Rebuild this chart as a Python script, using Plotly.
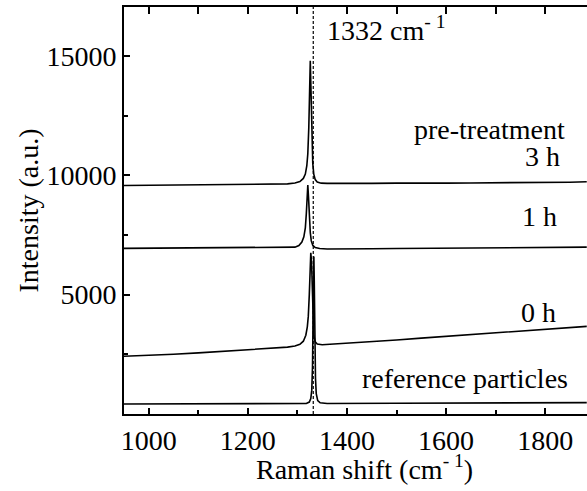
import plotly.graph_objects as go

# ---- data ----
x_3h = [950, 1000, 1050, 1100, 1150, 1200, 1250, 1280, 1295, 1305, 1312, 1316, 1319, 1321, 1323, 1324.5,
        1326, 1327.5, 1329, 1331, 1333, 1336, 1340, 1348, 1360, 1400, 1450, 1500, 1550, 1600, 1650,
        1700, 1750, 1800, 1850, 1884]
y_3h = [9570, 9580, 9590, 9600, 9605, 9615, 9625, 9640, 9680, 9740, 9870, 10050, 10400, 10900, 12000, 13600,
        14800, 13500, 11800, 10500, 10050, 9820, 9720, 9670, 9660, 9650, 9660, 9670, 9660, 9670, 9680,
        9680, 9690, 9700, 9710, 9730]

x_1h = [950, 1000, 1050, 1100, 1150, 1200, 1250, 1280, 1295, 1303, 1309, 1313, 1316, 1318, 1319.5, 1321,
        1322.5, 1324, 1326, 1328, 1331, 1336, 1345, 1360, 1400, 1450, 1500, 1550, 1600, 1650, 1700,
        1750, 1800, 1850, 1884]
y_1h = [6940, 6945, 6945, 6950, 6950, 6950, 6955, 6960, 6990, 7060, 7200, 7420, 7800, 8400, 9100, 9590,
        9050, 8200, 7600, 7250, 7070, 6970, 6930, 6915, 6910, 6920, 6930, 6940, 6950, 6960, 6965,
        6970, 6975, 6985, 6990]

x_0h = [950, 1000, 1050, 1100, 1150, 1200, 1250, 1280, 1295, 1305, 1312, 1317, 1320, 1322, 1324, 1325.5,
        1327, 1328.5, 1330, 1331.5, 1333, 1336, 1340, 1350, 1400, 1450, 1500, 1550, 1600, 1650, 1700,
        1750, 1800, 1850, 1884]
y_0h = [2420, 2450, 2500, 2560, 2620, 2680, 2740, 2800, 2850, 2920, 3050, 3300, 3650, 4100, 5000, 6000,
        6750, 6400, 5000, 3900, 3300, 3020, 2930, 2900, 2960, 3030, 3100, 3180, 3250, 3330, 3400,
        3470, 3550, 3620, 3670]

x_ref = [950, 1100, 1200, 1300, 1318, 1324, 1327, 1329, 1330.5, 1331.5, 1332.5, 1333.2, 1334, 1335, 1336.5,
         1338, 1341, 1346, 1360, 1500, 1700, 1884]
y_ref = [420, 425, 425, 430, 440, 500, 650, 1000, 2000, 3800, 6000, 6600, 5600, 3200, 1500,
         850, 560, 470, 440, 450, 460, 475]

peak_pos = 1332
x_range = [950, 1884.5]
y_range = [0, 17050]

FONT = "Liberation Serif, Times New Roman, Times, DejaVu Serif, serif"
FS = 28

fig = go.Figure()
for xs, ys in [(x_ref, y_ref), (x_0h, y_0h), (x_1h, y_1h), (x_3h, y_3h)]:
    fig.add_trace(go.Scatter(x=xs, y=ys, mode="lines", line=dict(color="black", width=1.6),
                             showlegend=False, hoverinfo="skip"))

# invisible trace for the top axis
fig.add_trace(go.Scatter(x=[x_range[0]], y=[y_range[0]], xaxis="x2", mode="markers",
                         marker=dict(opacity=0), showlegend=False, hoverinfo="skip"))

fig.add_shape(type="line", x0=peak_pos, x1=peak_pos, y0=0, y1=1, xref="x", yref="paper",
              line=dict(color="black", width=1.2, dash="3px,2px"))

labels = [
    ("pre-treatment", 1843.7, 11898),
    ("3 h", 1833.7, 10767),
    ("1 h", 1828, 8253),
    ("0 h", 1826, 4273),
    ("reference particles", 1850, 1508),
]
for txt, xx, yy in labels:
    fig.add_annotation(x=xx, y=yy, text=txt, showarrow=False, xanchor="right", yanchor="middle",
                       font=dict(family=FONT, size=FS, color="black"))

fig.add_annotation(x=1355.5, y=16150, text="1332 cm<sup>- 1</sup>", showarrow=False,
                   xanchor="left", yanchor="middle", font=dict(family=FONT, size=FS, color="black"))

# axis titles
fig.add_annotation(x=(364.7 - 124) / 463, y=-(467 - 414) / 407, xref="paper", yref="paper",
                   text="Raman shift (cm<sup>- 1</sup>)", showarrow=False, xanchor="center", yanchor="middle",
                   font=dict(family=FONT, size=FS, color="black"))
fig.add_annotation(x=(28 - 124) / 463, y=0.5, xref="paper", yref="paper", text="Intensity (a.u.)",
                   textangle=-90, showarrow=False, xanchor="center", yanchor="middle",
                   font=dict(family=FONT, size=FS, color="black"))

fig.update_layout(
    width=587, height=491,
    margin=dict(l=124, r=0, t=7, b=77, pad=0),
    plot_bgcolor="white", paper_bgcolor="white",
    font=dict(family=FONT, size=FS, color="black"),
    xaxis=dict(range=x_range, showgrid=False, zeroline=False, showline=True, linecolor="black",
               linewidth=2, mirror=False, ticks="inside", ticklen=6, tickwidth=1.5, tickcolor="black",
               dtick=200, tick0=1000, automargin=False,
               minor=dict(ticks="inside", dtick=100, ticklen=4, tickwidth=1.5, tickcolor="black"),
               tickfont=dict(family=FONT, size=FS, color="black")),
    xaxis2=dict(range=x_range, overlaying="x", side="top", showgrid=False, zeroline=False,
                showline=True, linecolor="black", linewidth=2, ticks="inside", ticklen=7,
                tickwidth=1.5, tickcolor="black", dtick=100, tick0=1000, showticklabels=False,
                automargin=False),
    yaxis=dict(range=y_range, showgrid=False, zeroline=False, showline=True, linecolor="black",
               linewidth=2, mirror=False, ticks="inside", ticklen=6, tickwidth=1.5, tickcolor="black",
               tickvals=[5000, 10000, 15000], tickformat="d", automargin=False,
               minor=dict(ticks="inside", tickvals=[2500, 7500, 12500], ticklen=4, tickwidth=1.5,
                          tickcolor="black"),
               tickfont=dict(family=FONT, size=FS, color="black")),
)

fig.write_html("out.html", config={"displayModeBar": False},
               post_script="document.body.style.margin='0';document.body.style.overflow='hidden';")
